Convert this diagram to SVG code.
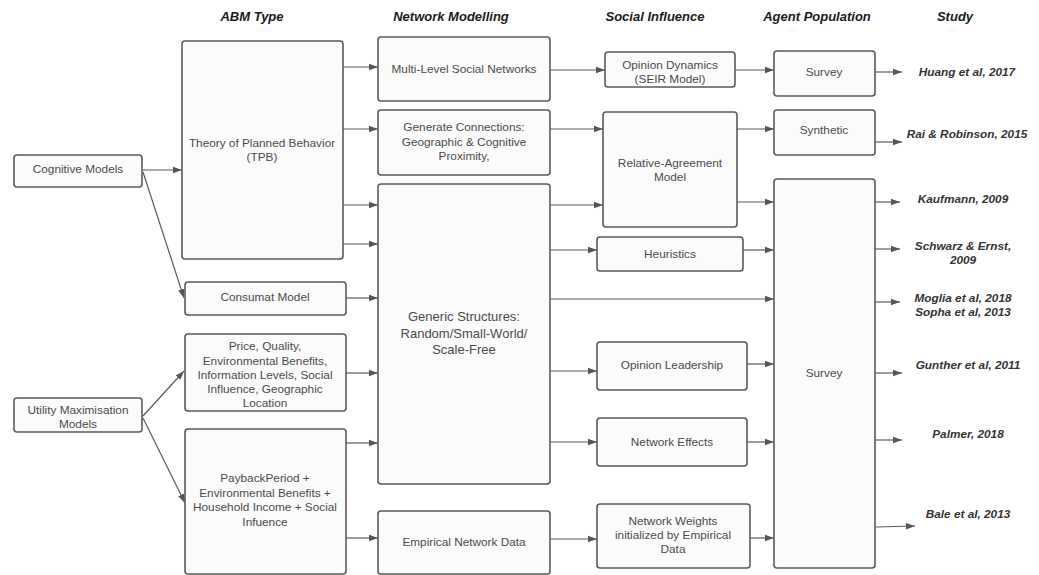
<svg xmlns="http://www.w3.org/2000/svg" width="1039" height="575" viewBox="0 0 1039 575">
  <style>
    .box { fill: #fbfbfb; stroke: #5a5a5a; stroke-width: 1.6; }
    .lbl { font-family: "Liberation Sans", Arial, sans-serif; font-size: 11.8px; fill: #4a4a4a; text-anchor: middle; }
    .big { font-size: 13px; }
    .hdr { font-family: "Liberation Sans", Arial, sans-serif; font-size: 13px; font-weight: bold; font-style: italic; fill: #1a1a1a; text-anchor: middle; }
    .ref { font-family: "Liberation Sans", Arial, sans-serif; font-size: 11.8px; font-weight: bold; font-style: italic; fill: #333; text-anchor: middle; }
    .edge { fill: none; stroke: #5a5a5a; stroke-width: 1.2; marker-end: url(#arrow); }
  </style>
  <defs>
    <marker id="arrow" markerUnits="userSpaceOnUse" markerWidth="10" markerHeight="8" refX="9" refY="4" orient="auto">
      <path d="M0,0.8 L9,4 L0,7.2 Z" fill="#555"/>
    </marker>
  </defs>
  <rect width="1039" height="575" fill="#ffffff"/>

  <!-- column headers -->
  <g id="headers">
    <text class="hdr" x="252" y="21">ABM Type</text>
    <text class="hdr" x="451" y="21">Network Modelling</text>
    <text class="hdr" x="655" y="21">Social Influence</text>
    <text class="hdr" x="817" y="21">Agent Population</text>
    <text class="hdr" x="955" y="21">Study</text>
  </g>

  <!-- connectors -->
  <g id="connectors">
    <path class="edge" d="M142,170 L182,170"/>
    <path class="edge" d="M143,172 L184,298"/>
    <path class="edge" d="M143,416 L184,371"/>
    <path class="edge" d="M143,418 L185,503"/>
    <path class="edge" d="M343,67 L378,67"/>
    <path class="edge" d="M343,129 L378,129"/>
    <path class="edge" d="M343,205 L378,205"/>
    <path class="edge" d="M343,244 L378,244"/>
    <path class="edge" d="M346,298 L378,298"/>
    <path class="edge" d="M346,373 L378,373"/>
    <path class="edge" d="M346,443 L378,443"/>
    <path class="edge" d="M346,538 L378,538"/>
    <path class="edge" d="M550,70 L605,70"/>
    <path class="edge" d="M550,129 L603,129"/>
    <path class="edge" d="M550,205 L603,205"/>
    <path class="edge" d="M550,250 L597,250"/>
    <path class="edge" d="M550,299 L774,299"/>
    <path class="edge" d="M550,371 L597,371"/>
    <path class="edge" d="M550,442 L597,442"/>
    <path class="edge" d="M550,539 L597,539"/>
    <path class="edge" d="M735,70 L774,70"/>
    <path class="edge" d="M737,129 L774,129"/>
    <path class="edge" d="M737,202 L774,202"/>
    <path class="edge" d="M743,250 L774,250"/>
    <path class="edge" d="M747,364 L774,364"/>
    <path class="edge" d="M747,442 L774,442"/>
    <path class="edge" d="M750,538 L774,538"/>
    <path class="edge" d="M875,72 L902,72"/>
    <path class="edge" d="M875,142 L902,142"/>
    <path class="edge" d="M875,202 L900,202"/>
    <path class="edge" d="M875,249 L900,249"/>
    <path class="edge" d="M875,302 L900,302"/>
    <path class="edge" d="M875,373 L902,373"/>
    <path class="edge" d="M875,440 L902,440"/>
    <path class="edge" d="M876,527 L915,526"/>
  </g>

  <!-- left-hand model families -->
  <g id="cognitive-models">
    <rect class="box" x="14" y="155" width="128" height="32" rx="3"/>
    <text class="lbl" x="78" y="173">Cognitive Models</text>
  </g>
  <g id="utility-models">
    <rect class="box" x="14" y="398" width="128" height="34" rx="3"/>
    <text class="lbl" x="78" y="414">Utility Maximisation</text>
    <text class="lbl" x="78" y="428">Models</text>
  </g>

  <!-- ABM type -->
  <g id="tpb">
    <rect class="box" x="182" y="41" width="161" height="218" rx="3"/>
    <text class="lbl" x="262" y="147">Theory of Planned Behavior</text>
    <text class="lbl" x="262" y="161">(TPB)</text>
  </g>
  <g id="consumat">
    <rect class="box" x="185" y="282" width="161" height="33" rx="3"/>
    <text class="lbl" x="265" y="301">Consumat Model</text>
  </g>
  <g id="price-quality">
    <rect class="box" x="185" y="334" width="161" height="77" rx="3"/>
    <text class="lbl" x="265" y="350">Price, Quality,</text>
    <text class="lbl" x="265" y="365">Environmental Benefits,</text>
    <text class="lbl" x="265" y="379">Information Levels, Social</text>
    <text class="lbl" x="265" y="393">Influence, Geographic</text>
    <text class="lbl" x="265" y="407">Location</text>
  </g>
  <g id="payback">
    <rect class="box" x="185" y="429" width="161" height="145" rx="3"/>
    <text class="lbl" x="265" y="482">PaybackPeriod +</text>
    <text class="lbl" x="265" y="497">Environmental Benefits +</text>
    <text class="lbl" x="265" y="511">Household Income + Social</text>
    <text class="lbl" x="265" y="526">Infuence</text>
  </g>

  <!-- network modelling -->
  <g id="multi-level">
    <rect class="box" x="378" y="37" width="172" height="64" rx="3"/>
    <text class="lbl" x="464" y="73">Multi-Level Social Networks</text>
  </g>
  <g id="generate-connections">
    <rect class="box" x="378" y="110" width="172" height="65" rx="3"/>
    <text class="lbl" x="464" y="131">Generate Connections:</text>
    <text class="lbl" x="464" y="146">Geographic &amp; Cognitive</text>
    <text class="lbl" x="464" y="160">Proximity,</text>
  </g>
  <g id="generic-structures">
    <rect class="box" x="378" y="184" width="172" height="300" rx="3"/>
    <text class="lbl big" x="464" y="321">Generic Structures:</text>
    <text class="lbl big" x="464" y="338">Random/Small-World/</text>
    <text class="lbl big" x="464" y="354">Scale-Free</text>
  </g>
  <g id="empirical-network">
    <rect class="box" x="378" y="511" width="172" height="63" rx="3"/>
    <text class="lbl" x="464" y="546">Empirical Network Data</text>
  </g>

  <!-- social influence -->
  <g id="opinion-dynamics">
    <rect class="box" x="605" y="52" width="130" height="35" rx="3"/>
    <text class="lbl" x="670" y="69">Opinion Dynamics</text>
    <text class="lbl" x="670" y="83">(SEIR Model)</text>
  </g>
  <g id="relative-agreement">
    <rect class="box" x="603" y="112" width="134" height="115" rx="3"/>
    <text class="lbl" x="670" y="167">Relative-Agreement</text>
    <text class="lbl" x="670" y="181">Model</text>
  </g>
  <g id="heuristics">
    <rect class="box" x="597" y="237" width="146" height="34" rx="3"/>
    <text class="lbl" x="670" y="258">Heuristics</text>
  </g>
  <g id="opinion-leadership">
    <rect class="box" x="597" y="342" width="150" height="48" rx="3"/>
    <text class="lbl" x="672" y="369">Opinion Leadership</text>
  </g>
  <g id="network-effects">
    <rect class="box" x="597" y="418" width="150" height="48" rx="3"/>
    <text class="lbl" x="672" y="446">Network Effects</text>
  </g>
  <g id="network-weights">
    <rect class="box" x="597" y="504" width="153" height="64" rx="3"/>
    <text class="lbl" x="673" y="525">Network Weights</text>
    <text class="lbl" x="673" y="539">initialized by Empirical</text>
    <text class="lbl" x="673" y="553">Data</text>
  </g>

  <!-- agent population -->
  <g id="survey-top">
    <rect class="box" x="774" y="51" width="101" height="45" rx="3"/>
    <text class="lbl" x="824" y="76">Survey</text>
  </g>
  <g id="synthetic">
    <rect class="box" x="774" y="110" width="101" height="45" rx="3"/>
    <text class="lbl" x="824" y="134">Synthetic</text>
  </g>
  <g id="survey-main">
    <rect class="box" x="774" y="179" width="101" height="389" rx="3"/>
    <text class="lbl" x="824" y="377">Survey</text>
  </g>

  <!-- study references -->
  <g id="studies">
    <text class="ref" x="967" y="76">Huang et al, 2017</text>
    <text class="ref" x="967" y="138">Rai &amp; Robinson, 2015</text>
    <text class="ref" x="963" y="203">Kaufmann, 2009</text>
    <text class="ref" x="963" y="250">Schwarz &amp; Ernst,</text>
    <text class="ref" x="963" y="264">2009</text>
    <text class="ref" x="963" y="302">Moglia et al, 2018</text>
    <text class="ref" x="963" y="316">Sopha et al, 2013</text>
    <text class="ref" x="968" y="369">Gunther et al, 2011</text>
    <text class="ref" x="968" y="438">Palmer, 2018</text>
    <text class="ref" x="968" y="518">Bale et al, 2013</text>
  </g>
</svg>
